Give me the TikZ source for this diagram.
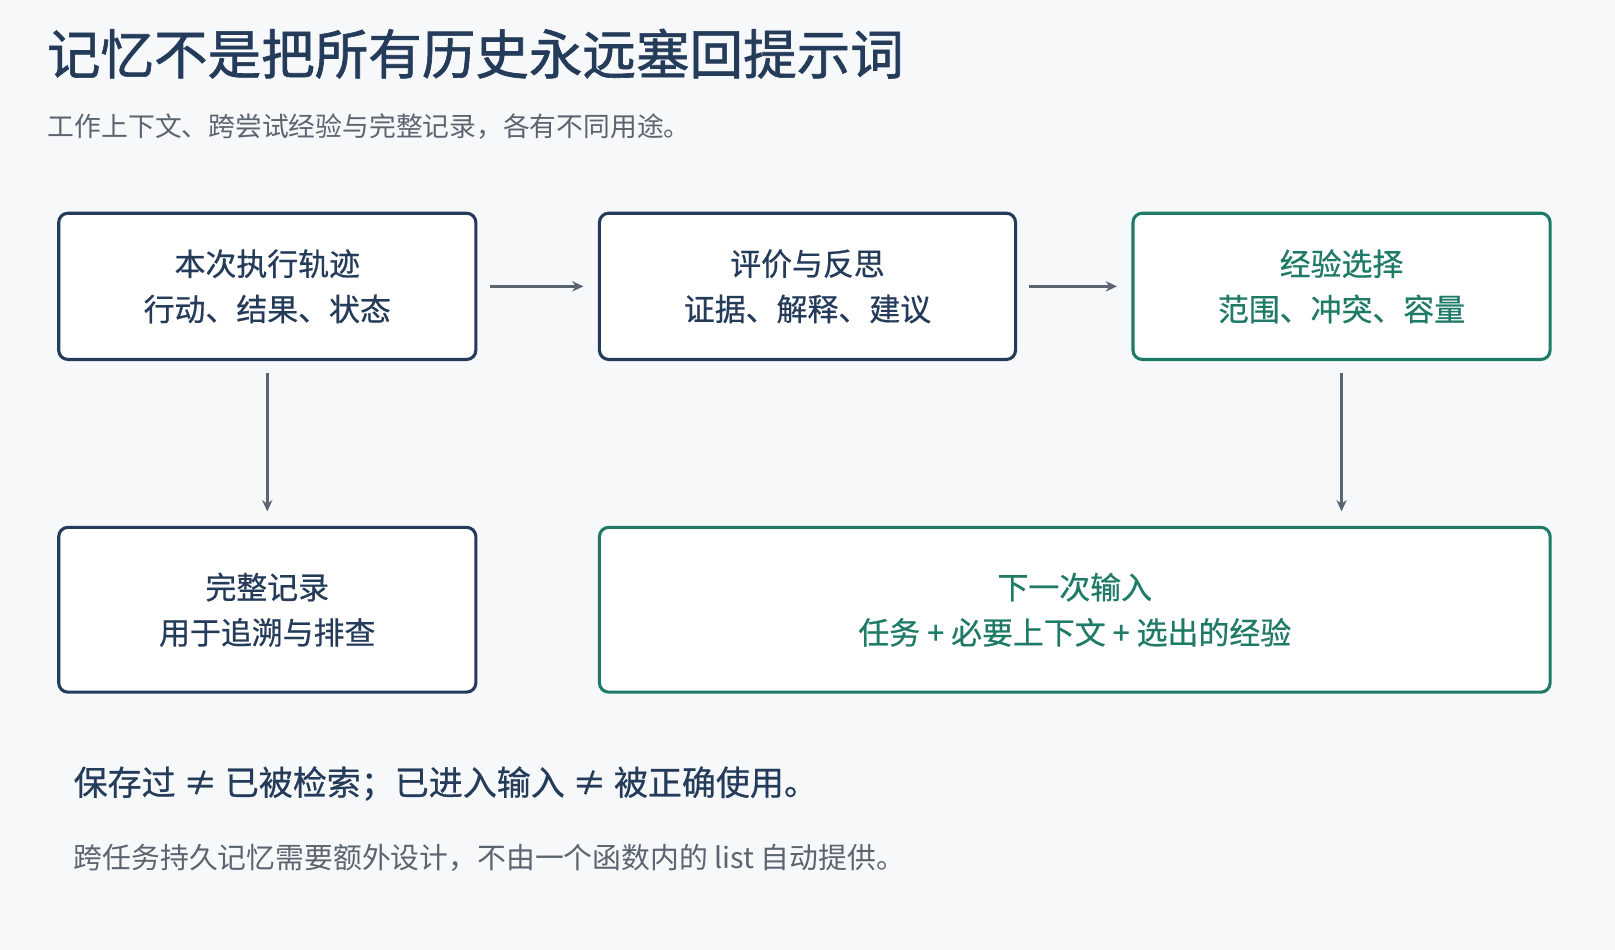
\documentclass[tikz,border=0pt]{standalone}
\usepackage{fontspec}
\setmainfont{Noto Sans CJK SC}
\newfontfamily\med[FakeBold=1.2]{Noto Sans CJK SC}
\newfontfamily\semi[FakeBold=0.6]{Noto Sans CJK SC}
\usetikzlibrary{arrows.meta}
\definecolor{navy}{HTML}{243B5A}
\definecolor{grn}{HTML}{1F7A68}
\definecolor{arr}{HTML}{5A6472}
\definecolor{bg}{HTML}{F6F8FA}
\definecolor{sub}{HTML}{5C6470}
\begin{document}
\begin{tikzpicture}[x=1pt,y=-1pt,
 box/.style={draw=navy,line width=3pt,rounded corners=9pt,fill=white,text=navy,align=center,font=\semi\fontsize{30}{44}\selectfont},
 gbox/.style={box,draw=grn,text=grn},
 ar/.style={draw=arr,line width=3pt,-{Stealth[length=11pt,width=10pt]}}]
\useasboundingbox[fill=bg] (0,0) rectangle (1568,922);
\node[anchor=base west,text=navy,font=\med\fontsize{52}{60}\selectfont] (t) at (42,72) {记忆不是把所有历史永远塞回提示词};
\node[anchor=base west,text=sub,font=\fontsize{26}{30}\selectfont] (s) at (43,133) {工作上下文、跨尝试经验与完整记录，各有不同用途。};
\node[box,minimum width=405pt,minimum height=142pt] (a) at (259.5,278) {本次执行轨迹\\行动、结果、状态};
\node[box,minimum width=404pt,minimum height=142pt] (b) at (784,278) {评价与反思\\证据、解释、建议};
\node[gbox,minimum width=405pt,minimum height=142pt] (c) at (1302.5,278) {经验选择\\范围、冲突、容量};
\node[box,minimum width=405pt,minimum height=160pt] (d) at (259.5,592) {完整记录\\用于追溯与排查};
\node[gbox,minimum width=923pt,minimum height=160pt] (e) at (1043.5,592) {下一次输入\\任务 + 必要上下文 + 选出的经验};
\draw[ar] ([xshift=12pt]a.east) -- ([xshift=-14pt]b.west);
\draw[ar] ([xshift=12pt]b.east) -- ([xshift=-14pt]c.west);
\draw[ar] ([yshift=-12pt]a.south) -- ([yshift=14pt]d.north);
\draw[ar] ([yshift=-12pt]c.south) -- ([yshift=14pt]e.north -| c.south);
\node[anchor=base west,text=navy,font=\semi\fontsize{33}{36}\selectfont] (l1) at (68,772) {保存过 ≠ 已被检索；已进入输入 ≠ 被正确使用。};
\node[anchor=base west,text=sub,font=\fontsize{28}{32}\selectfont] (l2) at (68,843) {跨任务持久记忆需要额外设计，不由一个函数内的 list 自动提供。};
\end{tikzpicture}
\end{document}
